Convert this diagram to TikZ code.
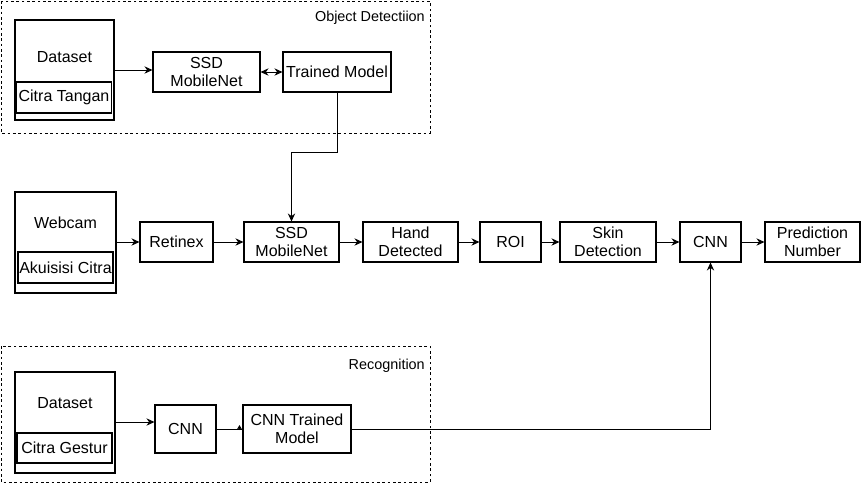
\documentclass[tikz,border=0pt]{standalone}
\usepackage{fontspec}
\setmainfont{Liberation Sans}
\usetikzlibrary{arrows.meta}
\begin{document}
\begin{tikzpicture}[x=0.75pt,y=-0.75pt,
  box/.style={draw=black,line width=0.8pt,inner sep=0pt,align=center,font=\fontsize{12pt}{13.5pt}\selectfont},
  txt/.style={inner sep=0pt,align=center,font=\fontsize{12pt}{13.5pt}\selectfont},
  lbl/.style={inner sep=0pt,anchor=east,font=\fontsize{10.8pt}{12pt}\selectfont},
  grp/.style={draw=black,line width=0.6pt,dash pattern=on 2pt off 2pt},
  arr/.style={line width=0.75pt,-{Stealth[length=6pt,width=5.5pt]}},
  darr/.style={line width=0.75pt,{Stealth[length=6pt,width=5.5pt]}-{Stealth[length=6pt,width=5.5pt]}},
  ln/.style={line width=0.75pt}]
\useasboundingbox (0,0) rectangle (861,483);
% groups
\draw[grp] (1,1) rectangle (430,133);
\draw[grp] (1,346) rectangle (430,482);
\node[lbl] (lob) at (425,18) {Object Detectiion};
\node[lbl] (lrec) at (425,366) {Recognition};
% top row
\node[box,minimum width=99*0.75pt,minimum height=100*0.75pt] (ds1) at (64.5,70) {};
\node[txt] (ds1t) at (64.5,57) {Dataset};
\node[box,minimum width=95*0.75pt,minimum height=31*0.75pt] (ct) at (64,97.5) {Citra Tangan};
\node[box,minimum width=107*0.75pt,minimum height=40*0.75pt] (ssd1) at (206.5,72) {SSD\\MobileNet};
\node[box,minimum width=108*0.75pt,minimum height=40*0.75pt] (tm) at (337,72) {Trained Model};
% middle row
\node[box,minimum width=101*0.75pt,minimum height=101*0.75pt] (web) at (65.5,242.5) {};
\node[txt] (webt) at (65.5,223) {Webcam};
\node[box,minimum width=95*0.75pt,minimum height=31*0.75pt] (ak) at (65.5,267.5) {Akuisisi Citra};
\node[box,minimum width=73*0.75pt,minimum height=40*0.75pt] (ret) at (176.5,242) {Retinex};
\node[box,minimum width=95*0.75pt,minimum height=40*0.75pt] (ssd2) at (291.5,242) {SSD\\MobileNet};
\node[box,minimum width=95*0.75pt,minimum height=40*0.75pt] (hand) at (410.5,242) {Hand\\Detected};
\node[box,minimum width=61*0.75pt,minimum height=40*0.75pt] (roi) at (510.5,242) {ROI};
\node[box,minimum width=96*0.75pt,minimum height=40*0.75pt] (skin) at (608,242) {Skin\\Detection};
\node[box,minimum width=61*0.75pt,minimum height=40*0.75pt] (cnn) at (710.5,242) {CNN};
\node[box,minimum width=95*0.75pt,minimum height=40*0.75pt] (pred) at (812.5,242) {Prediction\\Number};
% bottom row
\node[box,minimum width=100*0.75pt,minimum height=101*0.75pt] (ds2) at (65,422.5) {};
\node[txt] (ds2t) at (65,403) {Dataset};
\node[box,minimum width=95*0.75pt,minimum height=30*0.75pt] (cg) at (64.5,448) {Citra Gestur};
\node[box,minimum width=61*0.75pt,minimum height=48*0.75pt] (cnn2) at (185.5,429) {CNN};
\node[box,minimum width=108*0.75pt,minimum height=48*0.75pt] (cnnt) at (297,429) {CNN Trained\\Model};
% connectors
\draw[arr] (ds1.east |- 0,70) -- (ssd1.west |- 0,70);
\draw[darr] (ssd1.east) -- (tm.west);
\draw[arr] (tm.south) -- (337,152) -| (ssd2.north);
\draw[arr] (web.east |- 0,242) -- (ret.west);
\draw[arr] (ret) -- (ssd2);
\draw[arr] (ssd2) -- (hand);
\draw[arr] (hand) -- (roi);
\draw[arr] (roi) -- (skin);
\draw[arr] (skin) -- (cnn);
\draw[arr] (cnn) -- (pred);
\draw[arr] (ds2.east |- 0,422) -- (cnn2.west |- 0,422);
\draw[ln] (cnn2.east) -- (cnnt.west);
\draw[line width=0.6pt,-{Stealth[length=3.5pt,width=4pt]}] (cnnt.west) ++(-3,1) -- ++(0,-5);
\draw[arr] (cnnt.east) -| (cnn.south);
\end{tikzpicture}
\end{document}
